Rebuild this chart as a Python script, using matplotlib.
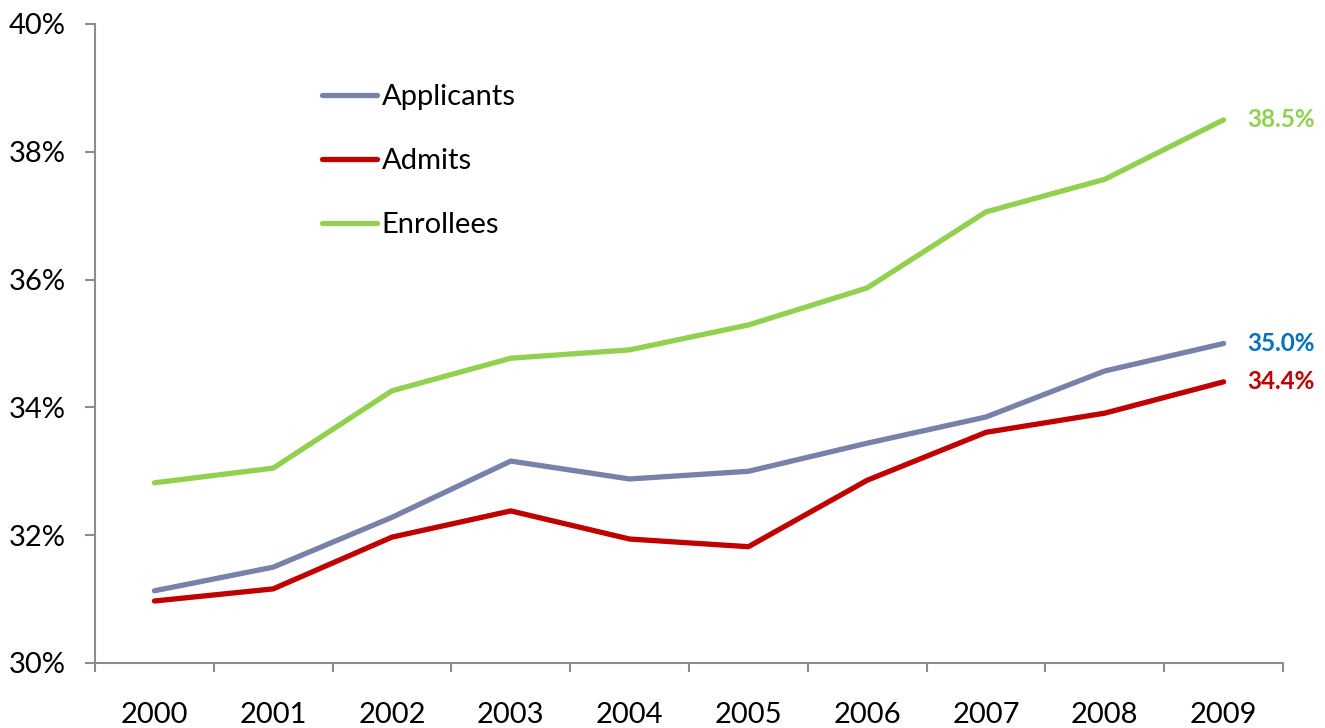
import matplotlib
matplotlib.use("Agg")
import matplotlib.pyplot as plt
from matplotlib.ticker import FixedLocator, PercentFormatter

plt.rcParams['font.family'] = ['Lato', 'DejaVu Sans']

years = ['2000', '2001', '2002', '2003', '2004', '2005', '2006', '2007', '2008', '2009']
applicants = [31.13, 31.50, 32.28, 33.16, 32.88, 33.00, 33.44, 33.85, 34.57, 35.0]
admits = [30.97, 31.16, 31.97, 32.38, 31.94, 31.82, 32.86, 33.61, 33.91, 34.4]
enrollees = [32.82, 33.05, 34.26, 34.77, 34.90, 35.29, 35.87, 37.06, 37.57, 38.5]

series = [
    ('Applicants', applicants, '#7781A9', '#0070C0'),
    ('Admits', admits, '#C00000', '#C00000'),
    ('Enrollees', enrollees, '#92D050', '#92D050'),
]

fig = plt.figure(figsize=(13.25, 7.28), dpi=100)
ax = fig.add_axes([95 / 1325, 1 - 663 / 728, 1188 / 1325, 639 / 728])

x = list(range(len(years)))
for name, vals, color, lab_color in series:
    ax.plot(x, vals, color=color, lw=3.8, solid_capstyle='round',
            solid_joinstyle='round', label=name)
    ax.annotate(f'{vals[-1]:.1f}%', xy=(x[-1], vals[-1]), xytext=(17, 0),
                textcoords='offset points', ha='left', va='center',
                fontsize=17.5, fontweight='bold', color=lab_color)

ax.set_xlim(-0.5, len(years) - 0.5)
ax.set_ylim(30, 40)
ax.set_yticks([30, 32, 34, 36, 38, 40])
ax.yaxis.set_major_formatter(PercentFormatter(decimals=0))

ax.set_xticks(x)
ax.set_xticklabels(years)
ax.xaxis.set_minor_locator(FixedLocator([i - 0.5 for i in range(len(years) + 1)]))

axis_gray = '#8C8C8C'
for side in ('top', 'right'):
    ax.spines[side].set_visible(False)
for side in ('left', 'bottom'):
    ax.spines[side].set_color(axis_gray)
    ax.spines[side].set_linewidth(1.5)

ax.tick_params(axis='y', which='major', length=7, width=1.5, color=axis_gray,
               pad=14, labelsize=21)
ax.tick_params(axis='x', which='major', length=0, pad=28, labelsize=21)
ax.tick_params(axis='x', which='minor', length=6.5, width=1.5, color=axis_gray)

ax.legend(loc='upper left', bbox_to_anchor=(0.191, 0.906), frameon=False,
          fontsize=21, handlelength=1.88, handletextpad=0.17,
          labelspacing=1.31, borderpad=0, borderaxespad=0)

fig.savefig('out.png', dpi=100)
